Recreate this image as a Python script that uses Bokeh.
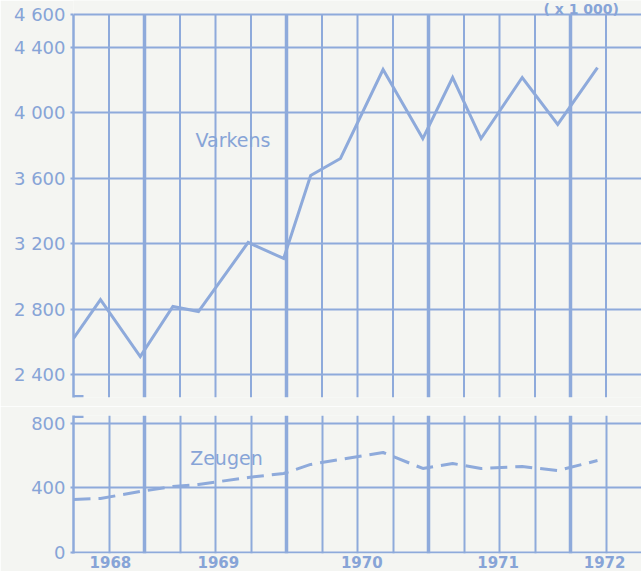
from bokeh.plotting import figure
from bokeh.layouts import column
from bokeh.models import FixedTicker, LinearAxis, Grid, Range1d, Label, BoxAnnotation
from bokeh.embed import file_html
from bokeh.resources import INLINE

# ---- data ----
dates = [1968.50, 1968.69, 1968.97, 1969.20, 1969.38, 1969.73, 1969.98, 1970.17,
         1970.38, 1970.68, 1970.96, 1971.17, 1971.37, 1971.66, 1971.91, 1972.19]
varkens = [2620, 2858, 2510, 2816, 2785, 3207, 3109, 3616,
           3720, 4264, 3842, 4215, 3842, 4215, 3928, 4276]
zeugen = [329, 335, 378, 409, 422, 465, 490, 546,
          577, 620, 521, 552, 521, 533, 508, 570]

varkens_ticks = [2400, 2800, 3200, 3600, 4000, 4400, 4600]
varkens_tick_labels = ["2 400", "2 800", "3 200", "3 600", "4 000", "4 400", "4 600"]
zeugen_ticks = [0, 400, 800]
zeugen_tick_labels = ["0", "400", "800"]
year_labels = ["1968", "1969", "1970", "1971", "1972"]
year_label_pos = [1968.76, 1969.52, 1970.53, 1971.49, 1972.24]
quarter_lines = [1968.75, 1969.25, 1969.5, 1969.75, 1970.25, 1970.5, 1970.75,
                 1971.25, 1971.5, 1971.75, 1972.25]
year_lines = [1969, 1970, 1971, 1972]

# ---- style ----
BLUE = "#8eaadb"
TEXT = "#87a4d7"
BG = "#f4f5f2"
FONT = "DejaVu Sans"
PX_PER_YEAR = 142.0
X_RANGE = (1968.5, 1968.5 + 568 / PX_PER_YEAR)
V_PX = 6.111           # Varkens units per pixel
V_LO = 2259.5          # bottom of the Varkens panel
V_TOP = 4600           # top line of the Varkens panel


def make_fig(height, y_range, border_top, border_bottom):
    p = figure(width=641, height=height,
               x_range=Range1d(*X_RANGE), y_range=Range1d(*y_range),
               output_backend="svg", toolbar_location=None,
               x_axis_location=None, y_axis_location=None,
               min_border_left=73, min_border_right=0,
               min_border_top=border_top, min_border_bottom=border_bottom,
               background_fill_color=BG, border_fill_color=BG,
               outline_line_color=None)
    p.center = []
    return p


def style_yaxis(ax):
    ax.axis_line_color = BLUE
    ax.axis_line_width = 2.5
    ax.major_tick_line_color = BLUE
    ax.major_tick_line_width = 2
    ax.major_tick_out = 3
    ax.major_tick_in = 0
    ax.minor_tick_line_color = None
    ax.major_label_standoff = 5
    ax.major_label_text_color = TEXT
    ax.major_label_text_font = FONT
    ax.major_label_text_font_size = "18px"


# ---- top panel: Varkens ----
top = make_fig(406, (V_LO, V_TOP + 14 * V_PX), 0, 9)
top.segment(x0=quarter_lines, y0=[V_LO] * len(quarter_lines),
            x1=quarter_lines, y1=[V_TOP] * len(quarter_lines),
            line_color=BLUE, line_width=2)
top.segment(x0=year_lines, y0=[V_LO] * len(year_lines),
            x1=year_lines, y1=[V_TOP] * len(year_lines),
            line_color=BLUE, line_width=3.5)
top.add_layout(Grid(dimension=1, ticker=FixedTicker(ticks=varkens_ticks),
                    grid_line_color=BLUE, grid_line_width=2))
yax = LinearAxis(ticker=FixedTicker(ticks=varkens_ticks), bounds=(V_LO, V_TOP),
                 major_label_overrides=dict(zip(varkens_ticks, varkens_tick_labels)))
style_yaxis(yax)
top.add_layout(yax, "left")
top.line(dates, varkens, line_color=BLUE, line_width=3, line_join="miter")
top.add_layout(Label(x=1969.623, y=3836, text="Varkens", text_align="center",
                     text_baseline="middle", text_font=FONT, text_font_size="19px",
                     text_color=TEXT))
top.add_layout(Label(x=1971.81, y=V_TOP + 14 * V_PX, text="( x 1 000)", text_align="left",
                     text_baseline="top", text_font=FONT, text_font_size="14px",
                     text_font_style="bold", text_color=TEXT))
top.add_layout(BoxAnnotation(left=1968.5, right=1968.5 + 10 / PX_PER_YEAR,
                             bottom=V_LO, top=V_LO + 2.5 * V_PX,
                             fill_color=BLUE, fill_alpha=1, line_color=None))

# ---- bottom panel: Zeugen ----
bot = make_fig(165, (-6.2, 849.4), 9, 18)
bot.add_layout(Grid(dimension=0, ticker=FixedTicker(ticks=quarter_lines),
                    grid_line_color=BLUE, grid_line_width=2))
bot.add_layout(Grid(dimension=0, ticker=FixedTicker(ticks=year_lines),
                    grid_line_color=BLUE, grid_line_width=3.5))
bot.add_layout(Grid(dimension=1, ticker=FixedTicker(ticks=zeugen_ticks),
                    grid_line_color=BLUE, grid_line_width=2))
yax2 = LinearAxis(ticker=FixedTicker(ticks=zeugen_ticks),
                  major_label_overrides=dict(zip(zeugen_ticks, zeugen_tick_labels)))
style_yaxis(yax2)
bot.add_layout(yax2, "left")
xax = LinearAxis(ticker=FixedTicker(ticks=year_label_pos),
                 major_label_overrides=dict(zip(year_label_pos, year_labels)))
xax.axis_line_color = None
xax.major_tick_line_color = None
xax.minor_tick_line_color = None
xax.major_tick_out = 0
xax.major_tick_in = 0
xax.major_label_standoff = 2
xax.major_label_text_color = TEXT
xax.major_label_text_font = FONT
xax.major_label_text_font_size = "15px"
xax.major_label_text_font_style = "bold"
bot.add_layout(xax, "below")
bot.line(dates, zeugen, line_color=BLUE, line_width=3, line_dash="17 8")
bot.add_layout(Label(x=1969.577, y=589, text="Zeugen", text_align="center",
                     text_baseline="middle", text_font=FONT, text_font_size="19px",
                     text_color=TEXT))
bot.add_layout(BoxAnnotation(left=1968.5, right=1968.5 + 10 / PX_PER_YEAR,
                             bottom=849.4 - 2.5 * 6.2, top=849.4,
                             fill_color=BLUE, fill_alpha=1, line_color=None))

layout = column(top, bot, spacing=0)
open("out.html", "w").write(file_html(layout, INLINE))
